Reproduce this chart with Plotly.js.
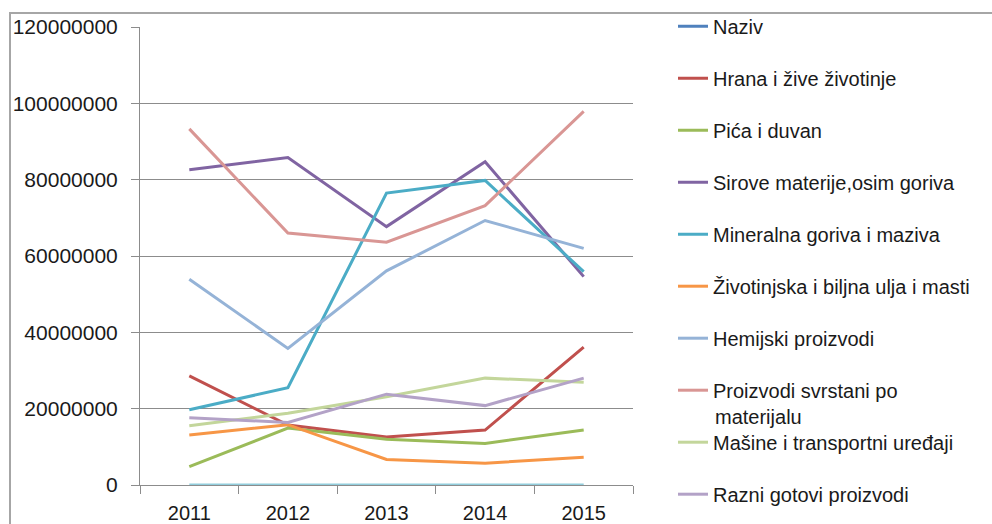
<!DOCTYPE html>
<html>
<head>
<meta charset="utf-8">
<script src="https://cdn.plot.ly/plotly-3.0.1.min.js"></script>
<style>html,body{margin:0;padding:0;background:#fff;}#chart{width:992px;height:524px;}</style>
</head>
<body>
<div id="chart"></div>
<script>
const years = ['2011', '2012', '2013', '2014', '2015'];
const seriesNames = [
  'Naziv',
  'Hrana i žive životinje',
  'Pića i duvan',
  'Sirove materije,osim goriva',
  'Mineralna goriva i maziva',
  'Životinjska i biljna ulja i masti',
  'Hemijski proizvodi',
  'Proizvodi svrstani po',
  'Mašine i transportni uređaji',
  'Razni gotovi proizvodi'
];
const wrappedNameTail = 'materijalu';
const naziv        = [null, null, null, null, null];
const hrana        = [28600000, 15700000, 12600000, 14400000, 36100000];
const pica         = [4800000, 14900000, 12000000, 10900000, 14400000];
const sirove       = [82600000, 85800000, 67700000, 84700000, 54600000];
const mineralna    = [19700000, 25500000, 76500000, 79800000, 55900000];
const zivotinjska  = [13100000, 15800000, 6700000, 5700000, 7300000];
const hemijski     = [53900000, 35800000, 56100000, 69300000, 62000000];
const proizvodi    = [93300000, 66000000, 63600000, 73200000, 97900000];
const masine       = [15500000, 18800000, 23100000, 28000000, 26900000];
const razni        = [17600000, 16400000, 23800000, 20800000, 28000000];
const unnamedZero  = [0, 0, 0, 0, 0];

const values = [naziv, hrana, pica, sirove, mineralna, zivotinjska, hemijski, proizvodi, masine, razni];
const colors = ['#4F81BD', '#C0504D', '#9BBB59', '#8064A2', '#4BACC6', '#F79646', '#95B3D7', '#D99694', '#C3D69B', '#B3A2C7'];

const traces = values.map((v, i) => ({
  type: 'scatter', mode: 'lines', x: years, y: v, name: seriesNames[i],
  line: {color: colors[i], width: 3}, legendgroup: 'g' + i, connectgaps: false
}));
traces.push({type: 'scatter', mode: 'lines', x: years, y: unnamedZero, name: '',
  showlegend: false, line: {color: '#92CDDC', width: 3}});

const font = 'Liberation Sans, Arial, sans-serif';
const txt = '#1a1a1a';
const layout = {
  width: 992, height: 524,
  margin: {l: 140, r: 359, t: 27, b: 39, autoexpand: false},
  paper_bgcolor: '#ffffff', plot_bgcolor: '#ffffff',
  showlegend: true,
  font: {family: font, size: 20, color: txt},
  xaxis: {
    type: 'category', categoryorder: 'array', categoryarray: years,
    range: [-0.5, 4.5], showgrid: false, zeroline: false,
    showline: true, linecolor: '#8c8c8c', linewidth: 1,
    ticks: 'outside', tickson: 'boundaries', ticklen: 8, tickcolor: '#8c8c8c',
    ticklabelstandoff: 10,
    tickfont: {family: font, size: 20, color: txt}
  },
  yaxis: {
    range: [0, 120000000], dtick: 20000000, tick0: 0,
    tickformat: 'd', exponentformat: 'none',
    showgrid: true, gridcolor: '#8c8c8c', gridwidth: 1, zeroline: false,
    showline: true, linecolor: '#8c8c8c', linewidth: 1,
    ticks: 'outside', ticklen: 8, tickcolor: '#8c8c8c',
    ticklabelstandoff: 9,
    tickfont: {family: font, size: 21, color: txt}
  },
  legend: {
    xref: 'container', yref: 'container',
    x: 673 / 992, xanchor: 'left', y: 1 - 6.7 / 524, yanchor: 'top',
    bgcolor: 'rgba(0,0,0,0)', borderwidth: 0,
    tracegroupgap: 23, maxheight: 1000,
    font: {family: font, size: 20, color: txt}
  },
  annotations: [{
    xref: 'paper', yref: 'paper', x: (713 - 140) / 493, y: (485 - 417) / 458,
    xanchor: 'left', yanchor: 'middle', showarrow: false,
    text: wrappedNameTail, font: {family: font, size: 20, color: txt}
  }],
  shapes: [{
    type: 'rect', xref: 'paper', yref: 'paper',
    x0: (10 - 140) / 493, x1: 1.8, y0: -0.3, y1: (485 - 13) / 458,
    line: {color: '#a6a6a6', width: 2}, fillcolor: 'rgba(0,0,0,0)', layer: 'below'
  }]
};
Plotly.newPlot('chart', traces, layout, {displayModeBar: false, staticPlot: true});
</script>
</body>
</html>
